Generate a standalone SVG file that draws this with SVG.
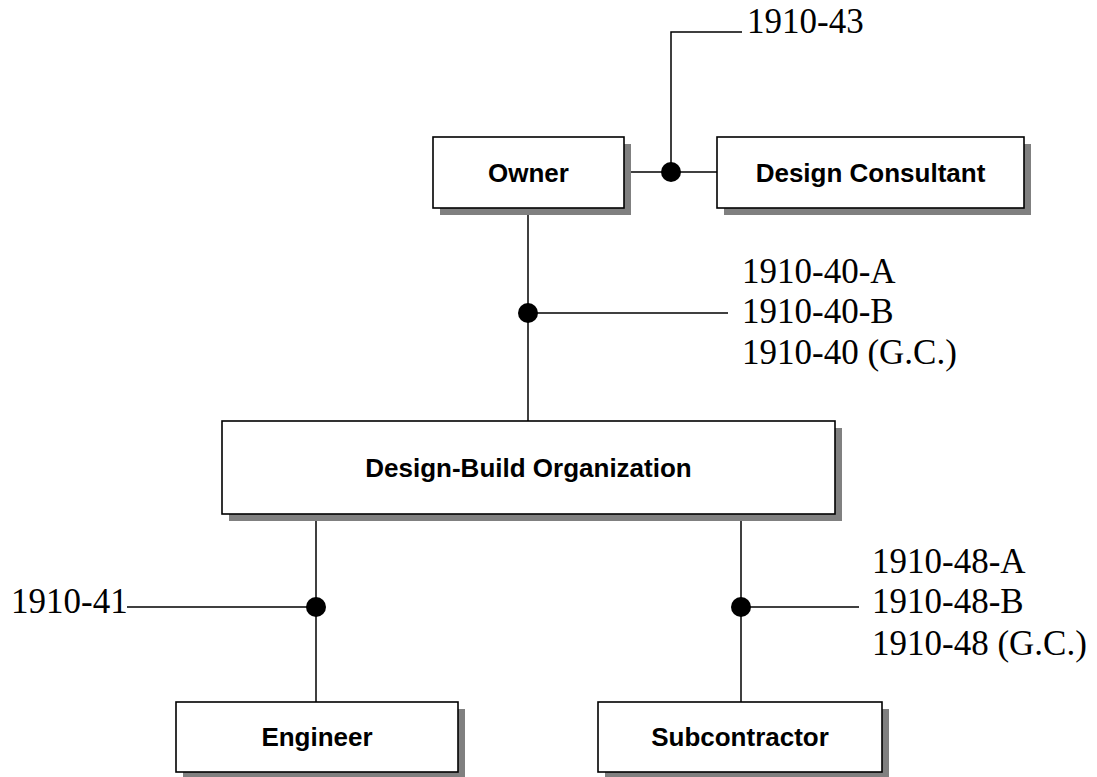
<svg xmlns="http://www.w3.org/2000/svg" width="1097" height="777" viewBox="0 0 1097 777">
<style>
.shadow{fill:#808080;stroke:none}
.box{fill:#fff;stroke:#000;stroke-width:1.6}
.lbl{font-family:"Liberation Sans",Arial,sans-serif;font-weight:bold;font-size:26px;text-anchor:middle;fill:#000}
.code{font-family:"Liberation Serif","Times New Roman",serif;font-size:35px;fill:#000}
.ln{stroke:#000;stroke-width:1.5;fill:none}
.dot{fill:#000}
</style>
<rect width="1097" height="777" fill="#fff"/>
<g id="connectors">
<polyline class="ln" points="624,172 717,172"/>
<polyline class="ln" points="671,172 671,32 742,32"/>
<polyline class="ln" points="528,208 528,421"/>
<polyline class="ln" points="528,313 728,313"/>
<polyline class="ln" points="316,514 316,702"/>
<polyline class="ln" points="127,607 316,607"/>
<polyline class="ln" points="741,514 741,702"/>
<polyline class="ln" points="741,607 859,607"/>
<circle class="dot" cx="671" cy="172" r="10"/>
<circle class="dot" cx="528" cy="313" r="10"/>
<circle class="dot" cx="316" cy="607" r="10"/>
<circle class="dot" cx="741" cy="607" r="10"/>
<text class="code" x="747" y="33">1910-43</text>
<text class="code" x="742" y="283">1910-40-A</text>
<text class="code" x="742" y="323">1910-40-B</text>
<text class="code" x="742" y="364">1910-40 (G.C.)</text>
<text class="code" x="11" y="613">1910-41</text>
<text class="code" x="872" y="573">1910-48-A</text>
<text class="code" x="872" y="613">1910-48-B</text>
<text class="code" x="872" y="655">1910-48 (G.C.)</text>
</g>
<g id="owner">
<rect class="shadow" x="440" y="144" width="191" height="71"/>
<rect class="box" x="433" y="137" width="191" height="71"/>
<text class="lbl" x="528.5" y="182">Owner</text>
</g>
<g id="design-consultant">
<rect class="shadow" x="724" y="144" width="307" height="71"/>
<rect class="box" x="717" y="137" width="307" height="71"/>
<text class="lbl" x="870.5" y="182">Design Consultant</text>
</g>
<g id="design-build-organization">
<rect class="shadow" x="229" y="428" width="613" height="93"/>
<rect class="box" x="222" y="421" width="613" height="93"/>
<text class="lbl" x="528.5" y="477">Design-Build Organization</text>
</g>
<g id="engineer">
<rect class="shadow" x="183" y="709" width="282" height="70"/>
<rect class="box" x="176" y="702" width="282" height="70"/>
<text class="lbl" x="317" y="746">Engineer</text>
</g>
<g id="subcontractor">
<rect class="shadow" x="605" y="709" width="284" height="70"/>
<rect class="box" x="598" y="702" width="284" height="70"/>
<text class="lbl" x="740" y="746">Subcontractor</text>
</g>
</svg>
